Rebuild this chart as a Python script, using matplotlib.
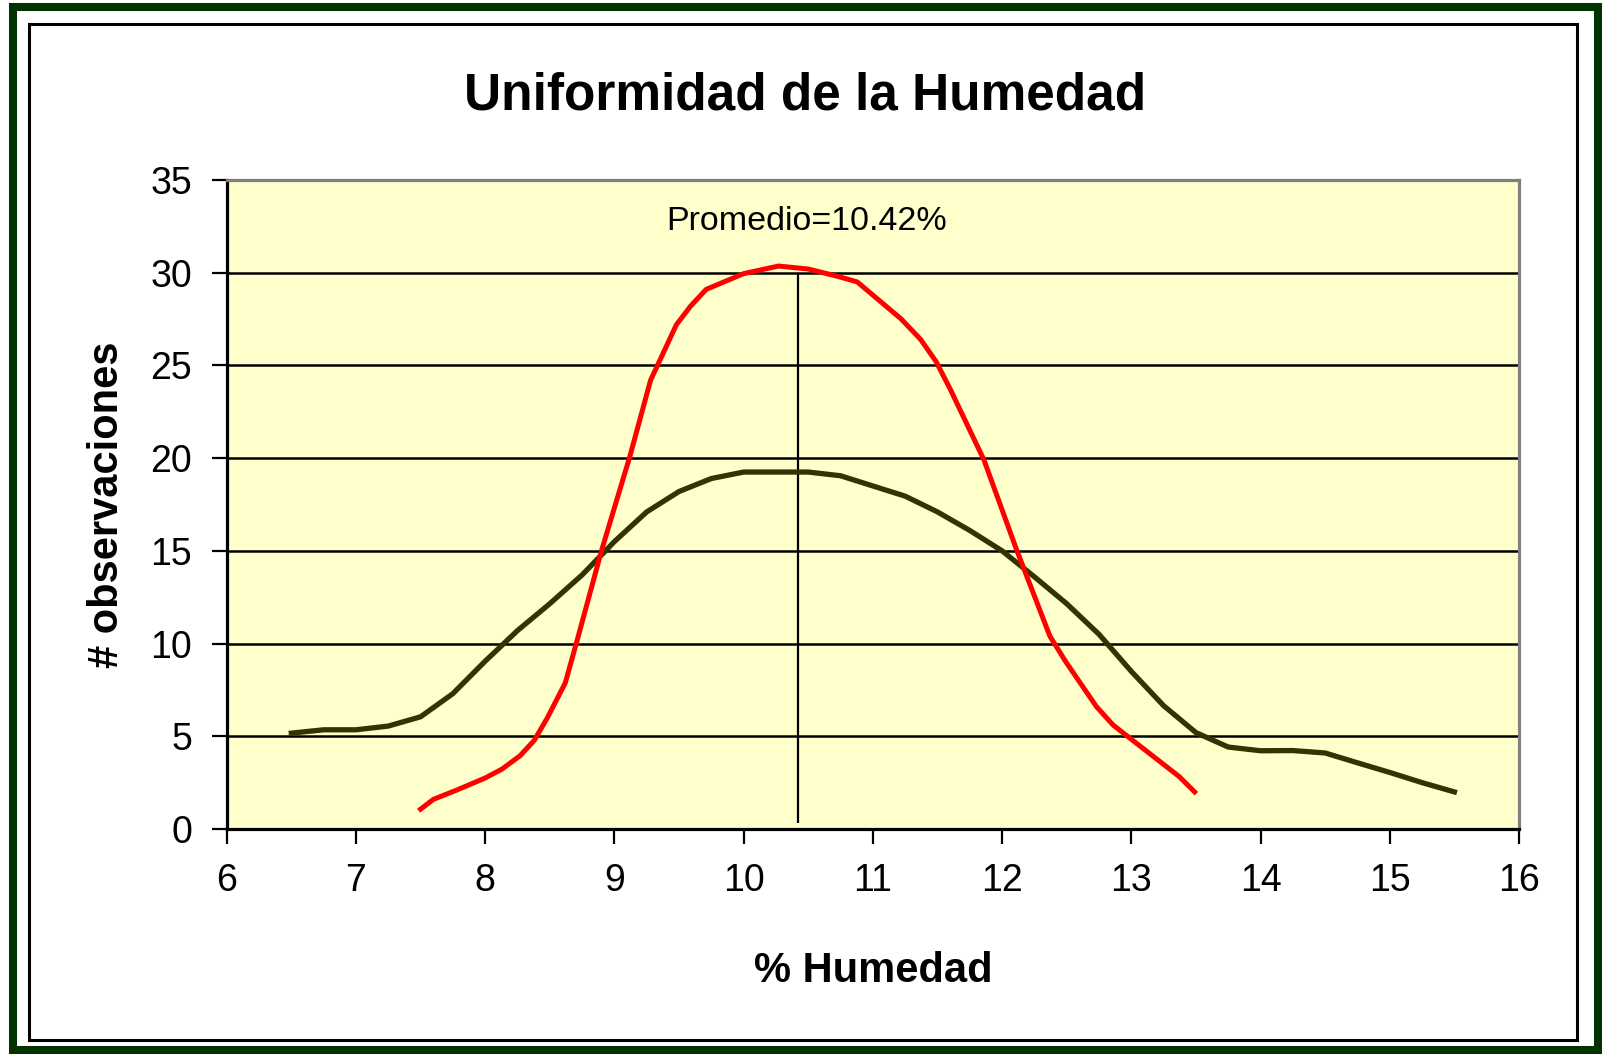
import matplotlib
matplotlib.use("Agg")
import matplotlib.pyplot as plt
from matplotlib.patches import Rectangle

plt.rcParams['font.family'] = ['Liberation Sans', 'DejaVu Sans']

# ---- data ----
title = "Uniformidad de la Humedad"
xlabel = "% Humedad"
ylabel = "# observaciones"
annotation = "Promedio=10.42%"
promedio = 10.42

x_ticks = [6, 7, 8, 9, 10, 11, 12, 13, 14, 15, 16]
y_ticks = [0, 5, 10, 15, 20, 25, 30, 35]

black_x = [6.5, 6.75, 7.0, 7.25, 7.5, 7.75, 8.0, 8.25, 8.5, 8.75, 9.0, 9.25, 9.5,
           9.75, 10.0, 10.25, 10.5, 10.75, 11.0, 11.25, 11.5, 11.75, 12.0, 12.25,
           12.5, 12.75, 13.0, 13.25, 13.5, 13.75, 14.0, 14.25, 14.5, 14.75, 15.0,
           15.25, 15.5]
black_y = [5.17, 5.35, 5.35, 5.55, 6.05, 7.3, 9.05, 10.7, 12.15, 13.7, 15.5, 17.1,
           18.2, 18.9, 19.25, 19.25, 19.25, 19.05, 18.5, 17.95, 17.1, 16.1, 15.0,
           13.6, 12.15, 10.5, 8.5, 6.65, 5.2, 4.42, 4.22, 4.23, 4.1, 3.57, 3.05,
           2.5, 2.0]

red_x = [7.50, 7.60, 7.78, 8.00, 8.13, 8.27, 8.38, 8.48, 8.62, 8.71, 8.90, 9.12,
         9.28, 9.48, 9.59, 9.71, 10.00, 10.27, 10.50, 10.73, 10.88, 11.22, 11.37,
         11.49, 11.60, 11.86, 12.11, 12.37, 12.49, 12.73, 12.86, 13.37, 13.49]
red_y = [1.07, 1.6, 2.1, 2.75, 3.23, 3.95, 4.78, 5.98, 7.88, 10.13, 15.0, 20.1,
         24.2, 27.2, 28.2, 29.1, 29.95, 30.36, 30.2, 29.8, 29.5, 27.5, 26.4,
         25.2, 23.7, 19.9, 15.1, 10.4, 9.05, 6.6, 5.6, 2.83, 2.0]

W, H = 1602, 1055
fig = plt.figure(figsize=(W / 100, H / 100), dpi=100)
fig.patch.set_facecolor('white')

# frames
fig.patches.append(Rectangle((13 / W, 5 / H), (1597.5 - 13) / W, (1048 - 5) / H,
                             transform=fig.transFigure, fill=False,
                             edgecolor='#003300', linewidth=5.8))
fig.patches.append(Rectangle((29 / W, (H - 1040) / H), (1577 - 29) / W, (1040 - 24.2) / H,
                             transform=fig.transFigure, fill=False,
                             edgecolor='black', linewidth=2.2))

ax = fig.add_axes([226.7 / W, (H - 829) / H, (1519 - 226.7) / W, (829 - 180) / H])
ax.set_facecolor('#FFFFCC')
ax.set_xlim(x_ticks[0], x_ticks[-1])
ax.set_ylim(y_ticks[0], y_ticks[-1])

for yv in y_ticks[1:-1]:
    ax.axhline(yv, color='black', linewidth=1.8, zorder=1)

ax.vlines(promedio, 0.3, 30, color='black', linewidth=1.6, zorder=2)

ax.plot(black_x, black_y, color='#333300', linewidth=3.8, zorder=3,
        solid_joinstyle='round')
ax.plot(red_x, red_y, color='#FF0000', linewidth=3.6, zorder=4,
        solid_joinstyle='round')

ax.text(9.405, 32.3, annotation, fontsize=24.5, ha='left', va='baseline')

ax.set_xticks(x_ticks)
ax.set_yticks(y_ticks)
ax.tick_params(axis='both', direction='out', length=10.8, width=1.6,
               labelsize=27, color='black')
ax.tick_params(axis='x', pad=14)
ax.tick_params(axis='y', pad=14)

for s in ['left', 'bottom']:
    ax.spines[s].set_color('black')
    ax.spines[s].set_linewidth(2.3)
for s in ['top', 'right']:
    ax.spines[s].set_color('#808080')
    ax.spines[s].set_linewidth(2.3)

fig.text(805.5 / W, (H - 109) / H, title, fontsize=37, fontweight='bold',
         ha='center', va='baseline')
fig.text(872.9 / W, (H - 981.7) / H, xlabel, fontsize=30, fontweight='bold',
         ha='center', va='baseline')
fig.text(118 / W, (H - 504.5) / H, ylabel, fontsize=30, fontweight='bold',
         rotation=90, rotation_mode='anchor', ha='center', va='baseline')

fig.savefig('out.png', dpi=100)
